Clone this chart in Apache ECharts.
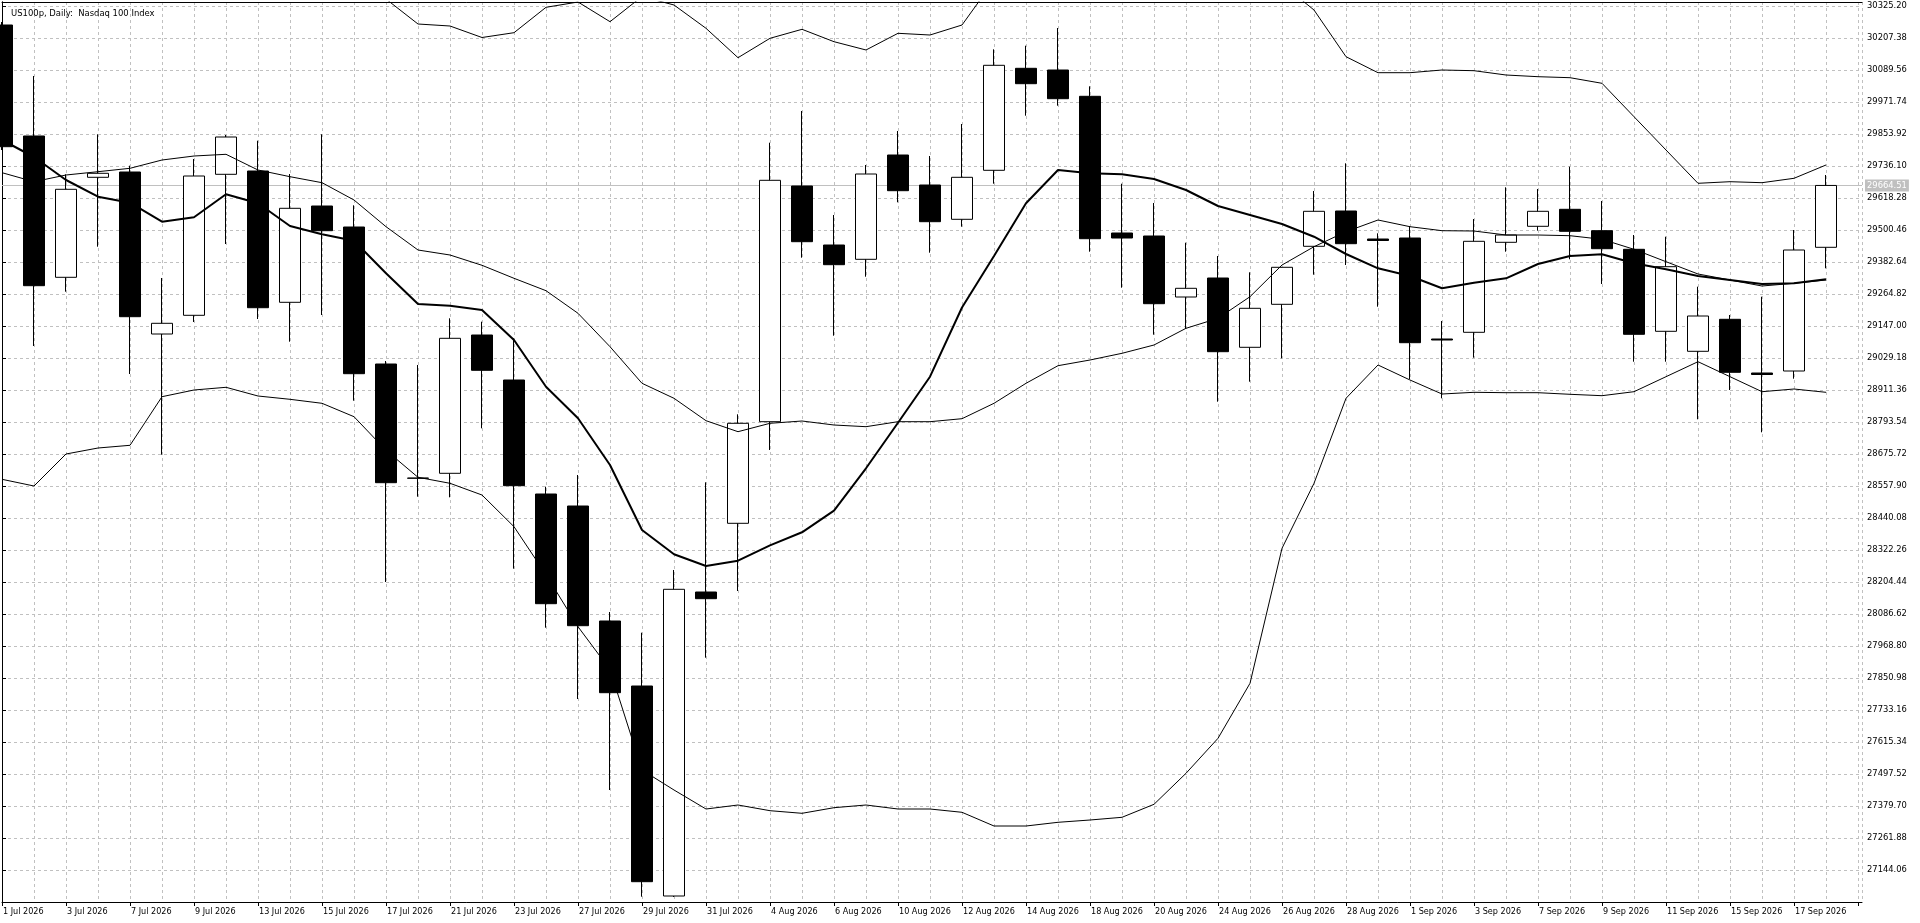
<!DOCTYPE html>
<html><head><meta charset="utf-8">
<script src="https://cdn.jsdelivr.net/npm/echarts@6/dist/echarts.min.js"></script>
<style>html,body{margin:0;padding:0;background:#fff;overflow:hidden}#c{width:1920px;height:923px}</style>
</head><body><div id="c"></div>
<script>
const chartTitle = 'US100p, Daily:  Nasdaq 100 Index';
const dates = ['1 Jul 2026','2 Jul 2026','3 Jul 2026','6 Jul 2026','7 Jul 2026','8 Jul 2026','9 Jul 2026','10 Jul 2026','13 Jul 2026','14 Jul 2026','15 Jul 2026','16 Jul 2026','17 Jul 2026','20 Jul 2026','21 Jul 2026','22 Jul 2026','23 Jul 2026','24 Jul 2026','27 Jul 2026','28 Jul 2026','29 Jul 2026','30 Jul 2026','31 Jul 2026','3 Aug 2026','4 Aug 2026','5 Aug 2026','6 Aug 2026','7 Aug 2026','10 Aug 2026','11 Aug 2026','12 Aug 2026','13 Aug 2026','14 Aug 2026','17 Aug 2026','18 Aug 2026','19 Aug 2026','20 Aug 2026','21 Aug 2026','24 Aug 2026','25 Aug 2026','26 Aug 2026','27 Aug 2026','28 Aug 2026','31 Aug 2026','1 Sep 2026','2 Sep 2026','3 Sep 2026','4 Sep 2026','7 Sep 2026','8 Sep 2026','9 Sep 2026','10 Sep 2026','11 Sep 2026','14 Sep 2026','15 Sep 2026','16 Sep 2026','17 Sep 2026','18 Sep 2026'];
const opens = [30255.24,29846.56,29326.31,29694.49,29714.01,29117.54,29186.40,29705.54,29717.69,29234.26,29588.82,29511.50,29007.09,28586.25,28604.66,29113.86,28948.18,28528.44,28484.26,28060.85,27821.52,27048.33,28167.62,28420.56,28794.64,29662.46,29445.23,29392.58,29776.60,29666.14,29539.85,29720.27,30095.82,30089.56,29992.73,29489.41,29478.37,29253.77,29323.73,29068.57,29226.90,29440.44,29570.41,29467.32,29471.00,29099.13,29123.80,29455.17,29514.08,29576.67,29497.88,29429.40,29127.48,29053.85,29171.67,28973.95,28981.31,29436.76];
const highs = [30266.29,30067.47,29705.54,29852.81,29737.20,29323.73,29761.87,29850.24,29829.25,29706.64,29852.81,29591.40,29018.13,29003.41,29175.35,29162.83,29101.71,28555.32,28598.40,28093.98,28017.77,28248.62,28571.52,28821.89,29821.89,29938.60,29555.69,29739.78,29864.96,29772.92,29890.74,30165.77,30179.03,30244.20,30029.54,29670.93,29599.87,29453.70,29404.73,29344.72,29364.23,29644.05,29746.04,29488.31,29515.19,29165.41,29540.96,29657.67,29651.42,29733.52,29607.23,29482.05,29475.79,29291.70,29187.50,29254.88,29500.46,29702.96];
const lows = [29795.01,29073.36,29273.29,29438.97,28970.27,28673.14,29161.73,29448.91,29172.77,29089.19,29187.50,28871.96,28204.44,28518.50,28516.29,28770.34,28253.41,28036.18,27773.66,27438.61,27045.75,27044.65,27925.72,28171.30,28690.45,29398.47,29111.28,29328.52,29602.45,29416.88,29512.61,29670.93,29921.30,29958.12,29420.56,29288.02,29114.97,29135.95,28868.28,28941.92,29028.07,29335.88,29371.59,29218.06,28951.86,28880.80,29030.28,29420.56,29497.88,29392.58,29301.64,29015.56,29015.56,28803.48,28911.36,28755.62,28952.96,29359.44];
const closes = [29807.16,29295.38,29650.31,29709.22,29181.24,29156.94,29699.28,29842.87,29214.34,29580.36,29497.88,28971.37,28570.05,28587.35,29101.71,28983.89,28559.00,28124.54,28043.54,27796.85,27100.98,28177.56,28142.95,28788.75,29683.45,29457.38,29372.70,29706.64,29645.16,29531.02,29694.49,30106.86,30039.12,29983.89,29468.43,29471.00,29229.10,29285.81,29052.37,29212.17,29363.13,29569.31,29450.02,29461.80,29085.51,29095.45,29458.85,29482.05,29569.31,29495.67,29431.61,29116.44,29365.33,29183.82,28976.53,28968.43,29426.82,29664.51];
const bandUpper = [30840.66,30798.69,30730.21,30732.41,30747.51,30629.69,30634.48,30637.05,30553.48,30516.29,30486.83,30408.78,30350.97,30258.92,30251.56,30209.22,30226.89,30320.41,30339.93,30267.39,30360.18,30328.88,30243.09,30134.85,30206.27,30239.41,30193.76,30163.20,30224.68,30218.42,30255.24,30418.72,30565.99,30681.97,30715.48,30754.87,30768.13,30776.96,30721.74,30678.29,30406.20,30310.47,30138.53,30079.62,30079.62,30089.56,30086.98,30071.15,30064.89,30061.21,30040.59,29917.62,29795.01,29672.40,29678.29,29674.61,29690.81,29739.78];
const bandMiddle = [29711.43,29678.29,29702.96,29715.11,29727.63,29758.19,29772.92,29779.18,29721.37,29696.70,29674.61,29610.91,29512.61,29426.82,29408.41,29370.49,29322.62,29276.97,29193.76,29070.78,28936.03,28880.80,28798.33,28757.82,28788.75,28797.22,28782.49,28776.23,28794.64,28794.64,28805.69,28862.39,28936.03,29000.83,29021.81,29046.48,29077.04,29138.53,29175.35,29254.88,29371.59,29438.97,29494.20,29537.28,29512.61,29497.88,29496.78,29482.05,29482.05,29479.47,29466.22,29429.40,29383.74,29338.46,29316.36,29294.27,29304.21,29316.36];
const bandLower = [28582.57,28557.90,28675.72,28697.81,28707.75,28886.69,28911.36,28921.30,28889.27,28877.12,28862.39,28813.05,28689.34,28589.93,28567.84,28524.76,28408.05,28231.32,28039.86,27881.91,27512.25,27438.61,27368.65,27383.38,27362.39,27352.82,27373.44,27383.38,27368.65,27368.65,27356.50,27306.06,27306.06,27319.68,27328.15,27338.09,27385.96,27500.10,27628.96,27831.46,28328.52,28567.84,28880.80,29003.41,28948.18,28896.63,28902.89,28901.42,28901.42,28895.53,28890.37,28905.10,28960.33,29015.56,28960.33,28905.10,28915.04,28902.89];
const movingAvg = [29831.83,29769.24,29684.55,29623.07,29600.97,29531.02,29547.22,29631.90,29598.76,29515.19,29484.63,29461.06,29341.03,29228.00,29221.74,29205.91,29095.45,28923.51,28807.16,28635.22,28395.90,28306.43,28263.35,28282.86,28339.56,28387.43,28466.96,28623.07,28790.96,28960.33,29215.11,29404.73,29598.76,29721.37,29709.22,29705.54,29688.23,29647.73,29588.82,29555.69,29522.55,29475.79,29412.10,29359.44,29331.09,29285.81,29306.42,29322.62,29375.27,29404.73,29410.99,29377.85,29355.76,29331.09,29316.36,29301.64,29304.21,29318.94];
const yTickLabels = ['30325.20','30207.38','30089.56','29971.74','29853.92','29736.10','29618.28','29500.46','29382.64','29264.82','29147.00','29029.18','28911.36','28793.54','28675.72','28557.90','28440.08','28322.26','28204.44','28086.62','27968.80','27850.98','27733.16','27615.34','27497.52','27379.70','27261.88','27144.06'];
const yMin = 27026.24, yMax = 30339.93, yStep = 117.82;
const lastPrice = 29664.51;

const FONT = "'DejaVu Sans Condensed','Liberation Sans',sans-serif";
const candleData = dates.map((d, i) => [i, opens[i], closes[i], lows[i], highs[i]]);
const xy = arr => arr.map((v, i) => [i, v]);
const lineS = (name, arr, w) => ({
  name, type: 'line', xAxisIndex: 0, yAxisIndex: 0, data: xy(arr), symbol: 'none', showSymbol: false,
  lineStyle: {color: '#000', width: w}, z: 3, silent: true, clip: true, emphasis: {disabled: true}
});
const chart = echarts.init(document.getElementById('c'));
chart.setOption({
  animation: false,
  backgroundColor: '#fff',
  textStyle: {fontFamily: FONT},
  title: {text: chartTitle, left: 6, top: 4, textStyle: {fontSize: 9.4, fontWeight: 'normal', color: '#000', fontFamily: FONT}},
  grid: {left: 2, top: 2, width: 1860, height: 900},
  xAxis: [
    {type: 'value', min: 0, max: 58.125, interval: 2, position: 'bottom',
     axisLine: {show: true, lineStyle: {color: '#000', width: 1}},
     axisTick: {show: true, length: 4, lineStyle: {color: '#000'}},
     axisLabel: {show: true, margin: 5, align: 'left', padding: [0, 0, 0, 1], color: '#000', fontSize: 9, fontFamily: FONT, showMaxLabel: false,
       formatter: v => { const i = Math.round(v); return (Math.abs(v - i) < 1e-6 && i % 2 === 0 && dates[i]) ? dates[i] : ''; }},
     splitLine: {show: false}},
    {type: 'value', min: 0, max: 58.125, interval: 1, position: 'top',
     axisLine: {show: true, lineStyle: {color: '#000', width: 1}},
     axisTick: {show: false}, axisLabel: {show: false},
     splitLine: {show: true, lineStyle: {color: '#c0c0c0', width: 1, type: [3, 3]}}}
  ],
  yAxis: [
    {type: 'value', min: yMin, max: yMax, interval: yStep, position: 'right',
     axisLine: {show: true, lineStyle: {color: '#000', width: 1}},
     axisTick: {show: true, length: 4, lineStyle: {color: '#000'}},
     axisLabel: {show: true, margin: 5, color: '#000', fontSize: 9.3, fontFamily: FONT, showMinLabel: false, showMaxLabel: false,
       formatter: v => { const s = v.toFixed(2); return yTickLabels.indexOf(s) >= 0 ? s : ''; }},
     splitLine: {show: true, lineStyle: {color: '#c0c0c0', width: 1, type: [3, 3]}}},
    {type: 'value', min: yMin, max: yMax, position: 'left',
     axisLine: {show: true, onZero: false, lineStyle: {color: '#000', width: 1}},
     axisTick: {show: false}, axisLabel: {show: false}, splitLine: {show: false}}
  ],
  series: [
    {name: 'US100p', type: 'candlestick', xAxisIndex: 0, yAxisIndex: 0, data: candleData,
     encode: {x: 0, y: [1, 2, 3, 4]}, barWidth: 22, z: 2, clip: true, silent: true,
     emphasis: {disabled: true},
     itemStyle: {color: '#ffffff', color0: '#000000', borderColor: '#000000', borderColor0: '#000000', borderWidth: 1},
     markLine: {silent: true, z: 1, symbol: ['none', 'none'], animation: false,
       lineStyle: {color: '#c0c0c0', width: 1, type: 'solid'},
       label: {show: true, position: 'end', distance: 3, formatter: lastPrice.toFixed(2), color: '#ffffff',
         backgroundColor: '#c0c0c0', padding: [2, 2, 1, 2], fontSize: 9.3, fontFamily: FONT},
       emphasis: {disabled: true},
       data: [{yAxis: lastPrice}]}},
    lineS('BB upper', bandUpper, 1),
    lineS('BB middle', bandMiddle, 1),
    lineS('BB lower', bandLower, 1),
    lineS('MA', movingAvg, 2)
  ]
});
</script></body></html>
